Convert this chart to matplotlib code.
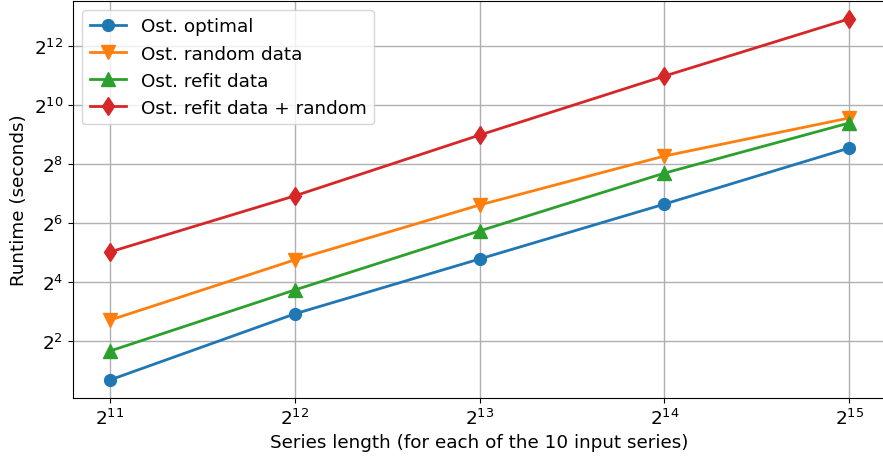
import matplotlib
matplotlib.use("Agg")
import matplotlib.pyplot as plt

# Series lengths (log2) and runtimes in seconds
series_length = [2**11, 2**12, 2**13, 2**14, 2**15]
ost_optimal = [2**0.68, 2**2.92, 2**4.78, 2**6.64, 2**8.54]
ost_random_data = [2**2.71, 2**4.75, 2**6.61, 2**8.27, 2**9.56]
ost_refit_data = [2**1.66, 2**3.73, 2**5.73, 2**7.69, 2**9.39]
ost_refit_random = [2**5.02, 2**6.92, 2**8.98, 2**10.98, 2**12.92]

labels = ["Ost. optimal", "Ost. random data", "Ost. refit data",
          "Ost. refit data + random"]

plt.rcParams["font.size"] = 13.2

fig = plt.figure(figsize=(8.83, 4.6), dpi=100)
ax = fig.add_axes([0.0827, 0.1326, 1.0034 - 0.0827, 0.996 - 0.1326])

ax.plot(series_length, ost_optimal, marker="o", markersize=8.5, lw=2, label=labels[0])
ax.plot(series_length, ost_random_data, marker="v", markersize=9.5, lw=2, label=labels[1])
ax.plot(series_length, ost_refit_data, marker="^", markersize=9.5, lw=2, label=labels[2])
ax.plot(series_length, ost_refit_random, marker="d", markersize=9.5, lw=2, label=labels[3])

ax.set_xscale("log", base=2)
ax.set_yscale("log", base=2)
ax.set_xticks(series_length)
ax.set_yticks([2**2, 2**4, 2**6, 2**8, 2**10, 2**12])
ax.minorticks_off()
ax.spines["right"].set_visible(False)
ax.grid(True, color="#b0b0b0", lw=1)
ax.set_xlabel("Series length (for each of the 10 input series)")
ax.set_ylabel("Runtime (seconds)")
ax.legend(loc="upper left")

fig.savefig("out.png", dpi=100)
